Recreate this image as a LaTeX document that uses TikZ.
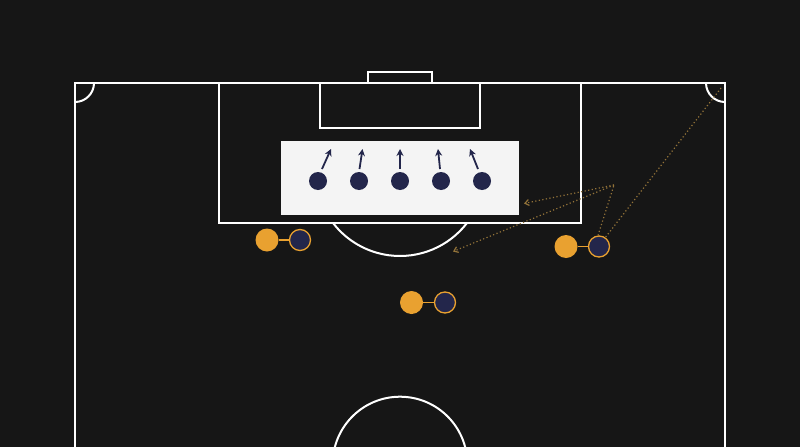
\documentclass[tikz,border=0pt]{standalone}
\usetikzlibrary{arrows.meta}
\definecolor{bg}{HTML}{161616}
\definecolor{navy}{HTML}{23264B}
\definecolor{orng}{HTML}{E9A130}
\definecolor{boxw}{HTML}{F4F4F4}
\definecolor{dotc}{HTML}{937339}
\tikzset{
  pitch/.style={draw=white, line width=2pt},
  defender/.style={circle, fill=navy, minimum size=18pt, inner sep=0pt},
  runarrow/.style={draw=navy, line width=1.8pt, -{Stealth[length=7pt,width=7pt]}},
  attacker/.style={circle, fill=orng, minimum size=23pt, inner sep=0pt},
  marker/.style={circle, fill=navy, draw=orng, line width=1.3pt, minimum size=21pt, inner sep=0pt},
  link/.style={draw=orng, line width=1.6pt},
  passline/.style={draw=dotc, line width=1.2pt, dash pattern=on 1.2pt off 2.4pt},
  passarrow/.style={passline, -{Straight Barb[length=4pt,width=6pt]}}
}
\begin{document}
\begin{tikzpicture}[x=1pt, y=-1pt]
\fill[bg] (0,0) rectangle (800,447);
\useasboundingbox (0,0) rectangle (800,447);
% pitch
\begin{scope}
\clip (0,0) rectangle (800,447);
\draw[pitch] (75,460) -- (75,83) -- (725,83) -- (725,460);
\draw[pitch] (219,83) -- (219,223) -- (581,223) -- (581,83);
\draw[pitch] (320,83) -- (320,128) -- (480,128) -- (480,83);
\draw[pitch] (368,83) -- (368,72) -- (432,72) -- (432,83);
\draw[pitch] (75,102) arc[start angle=90, end angle=0, radius=19];
\draw[pitch] (706,83) arc[start angle=180, end angle=90, radius=19];
\draw[pitch] (400,171.5) ++(37.5:84.5) arc[start angle=37.5, end angle=142.5, radius=84.5];
\draw[pitch] (400,464) circle[radius=67.3];
\end{scope}
% white box
\node[fill=boxw, minimum width=238pt, minimum height=74pt, inner sep=0pt] (wall) at (400,178) {};
% defenders
\node[defender] (d1) at (318,181) {};
\node[defender] (d2) at (359,181) {};
\node[defender] (d3) at (400,181) {};
\node[defender] (d4) at (441,181) {};
\node[defender] (d5) at (482,181) {};
\coordinate (s1) at (322,169); \coordinate (t1) at (331,149);
\coordinate (s2) at (359.5,169); \coordinate (t2) at (362.5,149);
\coordinate (s3) at (400,169); \coordinate (t3) at (400,149);
\coordinate (s4) at (440,169); \coordinate (t4) at (438,149);
\coordinate (s5) at (478,169); \coordinate (t5) at (470,149);
\draw[runarrow] (s1) -- (t1);
\draw[runarrow] (s2) -- (t2);
\draw[runarrow] (s3) -- (t3);
\draw[runarrow] (s4) -- (t4);
\draw[runarrow] (s5) -- (t5);
% attackers with markers
\node[attacker] (a1) at (267,240) {};
\node[marker] (b1) at (300,240) {};
\node[attacker] (a2) at (566,246.5) {};
\node[marker] (b2) at (599,246.5) {};
\node[attacker] (a3) at (411.5,302.5) {};
\node[marker] (b3) at (445,302.5) {};
\draw[link] (a1) -- (b1);
\draw[link] (a2) -- (b2);
\draw[link] (a3) -- (b3);
% dotted paths
\coordinate (corner) at (721,88);
\coordinate (turn) at (614,185);
\coordinate (e1) at (524,203.5);
\coordinate (e2) at (453,251.5);
\draw[passline] (corner) -- (b2.55);
\draw[passline] (b2.95) -- (turn);
\draw[passarrow] (turn) -- (e1);
\draw[passarrow] (turn) -- (e2);
\end{tikzpicture}
\end{document}
